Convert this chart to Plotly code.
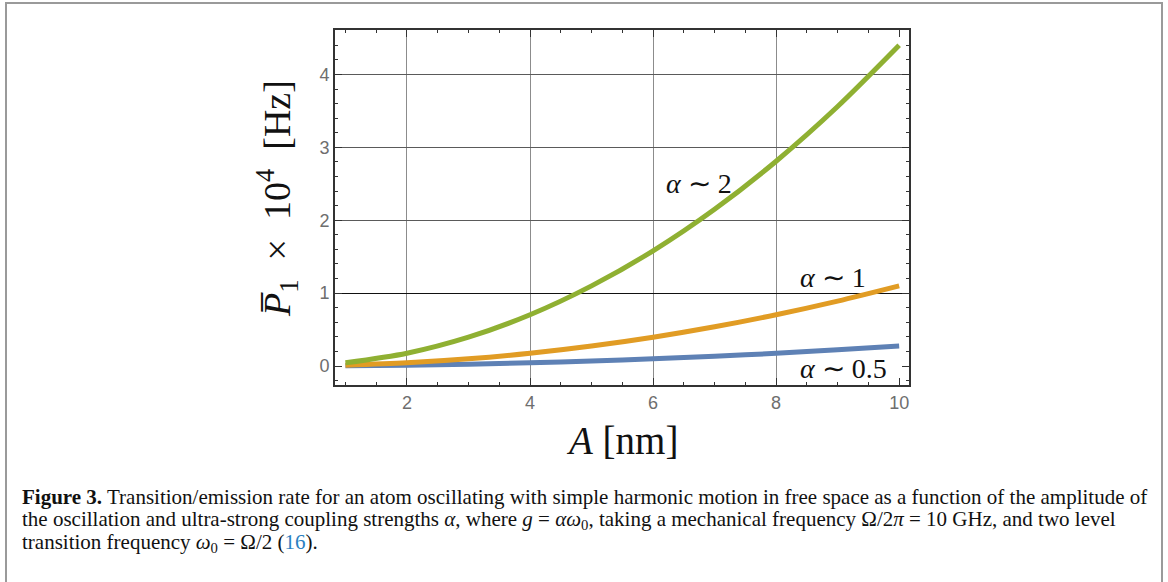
import plotly.graph_objects as go

# ---- data ----
amplitude_nm = [1, 2, 3, 4, 5, 6, 7, 8, 9, 10]
rate_alpha_05 = [0.003, 0.011, 0.025, 0.044, 0.069, 0.099, 0.135, 0.175, 0.222, 0.275]
rate_alpha_1 = [0.011, 0.044, 0.099, 0.176, 0.275, 0.396, 0.539, 0.704, 0.891, 1.10]
rate_alpha_2 = [0.044, 0.176, 0.396, 0.704, 1.10, 1.58, 2.15, 2.81, 3.56, 4.40]

series_names = ["α ∼ 0.5", "α ∼ 1", "α ∼ 2"]
series_colors = ["#5E81B5", "#E19C24", "#8FB032"]

x_ticks = [2, 4, 6, 8, 10]
y_ticks = [0, 1, 2, 3, 4]
x_grid = [2, 4, 6, 8]
y_grid_gray = [2, 3, 4]
y_grid_dark = [1]

label_pos = [(9.1, -0.03, "α ∼ 0.5"), (8.93, 1.21, "α ∼ 1"), (6.75, 2.51, "α ∼ 2")]

caption_lines = [
    "<b>Figure 3.</b> Transition/emission rate for an atom oscillating with simple harmonic motion in free space as a function of the amplitude of",
    "the oscillation and ultra-strong coupling strengths <i>α</i>, where <i>g</i> = <i>αω</i><sub>0</sub>, taking a mechanical frequency Ω/2<i>π</i> = 10 GHz, and two level",
    "transition frequency <i>ω</i><sub>0</sub> = Ω/2 (<span style='color:#2a7fc1'>16</span>).",
]

# ---- layout geometry (pixels) ----
W, H = 1168, 582
L, R, T, B = 335, 909, 30, 385
XR = [0.83, 10.16]
YR = [-0.26, 4.61]


def px_x(p):
    return (p - L) / (R - L)


def px_y(p):
    return (B - p) / (B - T)


fig = go.Figure()

for ys, name, col in zip([rate_alpha_05, rate_alpha_1, rate_alpha_2], series_names, series_colors):
    fig.add_trace(go.Scatter(x=amplitude_nm, y=ys, mode="lines", name=name,
                             line=dict(color=col, width=5, shape="spline", smoothing=0.8),
                             hoverinfo="skip"))

# dummy traces to create overlay axes used only for grid lines
fig.add_trace(go.Scatter(x=[None], y=[None], xaxis="x2", yaxis="y2", showlegend=False, hoverinfo="skip"))
fig.add_trace(go.Scatter(x=[None], y=[None], xaxis="x2", yaxis="y3", showlegend=False, hoverinfo="skip"))

tickfont = dict(family="Liberation Sans, Arial, sans-serif", size=18, color="#6e6e6e")
spine = "#333333"

fig.update_layout(
    width=W, height=H,
    margin=dict(l=L, r=W - R, t=T, b=H - B),
    paper_bgcolor="white", plot_bgcolor="rgba(0,0,0,0)",
    showlegend=False,
    xaxis=dict(range=XR, tickvals=x_ticks, ticks="inside", ticklen=7, tickwidth=1, tickcolor=spine,
               showline=True, linecolor=spine, linewidth=2, mirror="ticks",
               showgrid=False, zeroline=False, tickfont=tickfont,
               minor=dict(dtick=0.5, tick0=0, ticks="inside", ticklen=3, tickcolor=spine, showgrid=False)),
    yaxis=dict(range=YR, tickvals=y_ticks, ticks="inside", ticklen=7, tickwidth=1, tickcolor=spine,
               showline=True, linecolor=spine, linewidth=2, mirror="ticks",
               showgrid=False, zeroline=False, tickfont=tickfont,
               minor=dict(dtick=0.2, tick0=0, ticks="inside", ticklen=3, tickcolor=spine, showgrid=False)),
    xaxis2=dict(range=XR, overlaying="x", anchor="y2", tickvals=x_grid, showticklabels=False, ticks="",
                showgrid=True, gridcolor="#8c8c8c", gridwidth=1, zeroline=False, showline=False),
    yaxis2=dict(range=YR, overlaying="y", anchor="x2", tickvals=y_grid_gray, showticklabels=False, ticks="",
                showgrid=True, gridcolor="#5a5a5a", gridwidth=1, zeroline=False, showline=False),
    yaxis3=dict(range=YR, overlaying="y", anchor="x2", tickvals=y_grid_dark, showticklabels=False, ticks="",
                showgrid=True, gridcolor="#111111", gridwidth=1, zeroline=False, showline=False),
)

serif = "Liberation Serif, Times New Roman, serif"

for x, y, t in label_pos:
    a, rest = t.split(" ", 1)
    fig.add_annotation(x=x, y=y, xref="x", yref="y", text="<i>" + a + "</i> " + rest,
                       showarrow=False, font=dict(family=serif, size=28, color="#111"),
                       xanchor="center", yanchor="middle")

# axis titles
fig.add_annotation(x=px_x(622), y=px_y(440), xref="paper", yref="paper",
                   text="<i>A</i> [nm]", showarrow=False,
                   font=dict(family=serif, size=39, color="#111"), xanchor="center", yanchor="middle")
fig.add_annotation(x=px_x(277), y=px_y(199), xref="paper", yref="paper", textangle=-90,
                   text="<i>P\u0305</i><sub>1</sub>  ×  10<sup>4</sup>  [Hz]", showarrow=False,
                   font=dict(family=serif, size=38, color="#111"), xanchor="center", yanchor="middle")

# caption
for i, line in enumerate(caption_lines):
    fig.add_annotation(x=px_x(20), y=px_y(497 + 23 * i), xref="paper", yref="paper",
                       text=line, showarrow=False, align="left",
                       font=dict(family=serif, size=21, color="#111"), xanchor="left", yanchor="middle")

# outer frame of the figure panel
fig.add_shape(type="rect", xref="paper", yref="paper",
              x0=px_x(6), x1=px_x(1162), y0=px_y(600), y1=px_y(3),
              line=dict(color="#9a9a9a", width=2), fillcolor="rgba(0,0,0,0)", layer="above")

fig.write_html("out.html", config={"displayModeBar": False},
               post_script="document.body.style.margin='0';document.body.style.overflow='hidden';")
